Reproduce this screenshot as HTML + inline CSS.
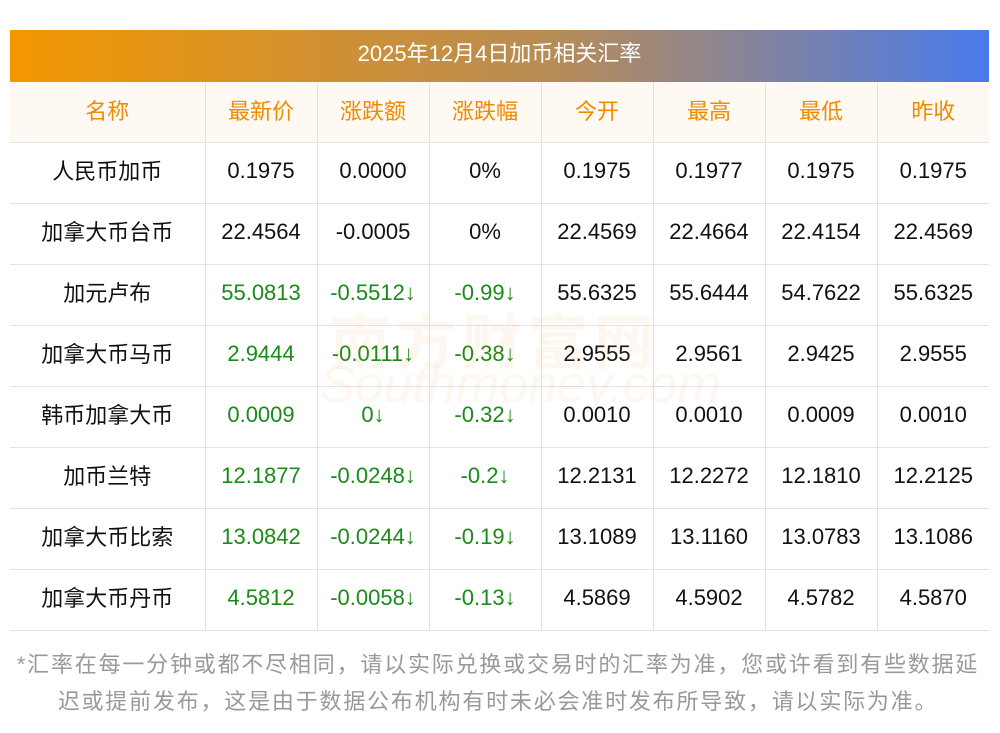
<!DOCTYPE html>
<html><head><meta charset="utf-8"><style>
body{margin:0;width:1000px;height:733px;background:#fff;font-family:"Liberation Sans","Noto Sans CJK SC",sans-serif;position:relative;overflow:hidden}
.title{position:absolute;left:10px;top:30px;width:979px;height:52px;background:linear-gradient(90deg,#f39700,#b88c55 55%,#4a7aec);color:#fff;font-size:22px;text-align:center;line-height:48px}
table{position:absolute;left:10px;top:82px;width:979px;border-collapse:collapse;table-layout:fixed}
td{height:61px;border:1px solid #e2e2ea;text-align:center;font-size:22px;color:#111;padding:0 0 4px 0;box-sizing:border-box}
tr td:first-child{border-left:none;padding:0 0 6px 0}tr td:last-child{border-right:none}
tr:first-child td{border-top:none;background:#fef9f2;color:#f08a00;padding:0 0 4px 0;height:60px}
.g{color:#1a8a1a}
.wm{position:absolute;left:330px;top:295px;font-size:60px;color:rgba(240,150,60,0.08);font-weight:bold;letter-spacing:6px}
.wm2{position:absolute;left:320px;top:355px;font-size:52px;color:rgba(240,150,60,0.08);font-style:italic}
.foot{position:absolute;left:8px;top:646px;width:980px;font-size:22px;color:#999;line-height:37px;text-align:center;letter-spacing:1.8px}
</style></head><body>
<div class="title">2025年12月4日加币相关汇率</div>
<table>
<colgroup><col style="width:195px"><col style="width:112px"><col style="width:112px"><col style="width:112px"><col style="width:112px"><col style="width:112px"><col style="width:112px"><col style="width:112px"></colgroup>
<tr><td>名称</td><td>最新价</td><td>涨跌额</td><td>涨跌幅</td><td>今开</td><td>最高</td><td>最低</td><td>昨收</td></tr>
<tr><td>人民币加币</td><td>0.1975</td><td>0.0000</td><td>0%</td><td>0.1975</td><td>0.1977</td><td>0.1975</td><td>0.1975</td></tr>
<tr><td>加拿大币台币</td><td>22.4564</td><td>-0.0005</td><td>0%</td><td>22.4569</td><td>22.4664</td><td>22.4154</td><td>22.4569</td></tr>
<tr><td>加元卢布</td><td class="g">55.0813</td><td class="g">-0.5512↓</td><td class="g">-0.99↓</td><td>55.6325</td><td>55.6444</td><td>54.7622</td><td>55.6325</td></tr>
<tr><td>加拿大币马币</td><td class="g">2.9444</td><td class="g">-0.0111↓</td><td class="g">-0.38↓</td><td>2.9555</td><td>2.9561</td><td>2.9425</td><td>2.9555</td></tr>
<tr><td>韩币加拿大币</td><td class="g">0.0009</td><td class="g">0↓</td><td class="g">-0.32↓</td><td>0.0010</td><td>0.0010</td><td>0.0009</td><td>0.0010</td></tr>
<tr><td>加币兰特</td><td class="g">12.1877</td><td class="g">-0.0248↓</td><td class="g">-0.2↓</td><td>12.2131</td><td>12.2272</td><td>12.1810</td><td>12.2125</td></tr>
<tr><td>加拿大币比索</td><td class="g">13.0842</td><td class="g">-0.0244↓</td><td class="g">-0.19↓</td><td>13.1089</td><td>13.1160</td><td>13.0783</td><td>13.1086</td></tr>
<tr><td>加拿大币丹币</td><td class="g">4.5812</td><td class="g">-0.0058↓</td><td class="g">-0.13↓</td><td>4.5869</td><td>4.5902</td><td>4.5782</td><td>4.5870</td></tr>
</table>
<div class="wm">南方财富网</div>
<div class="wm2">Southmoney.com</div>
<div class="foot">*汇率在每一分钟或都不尽相同，请以实际兑换或交易时的汇率为准，您或许看到有些数据延<br>迟或提前发布，这是由于数据公布机构有时未必会准时发布所导致，请以实际为准。</div>
</body></html>
